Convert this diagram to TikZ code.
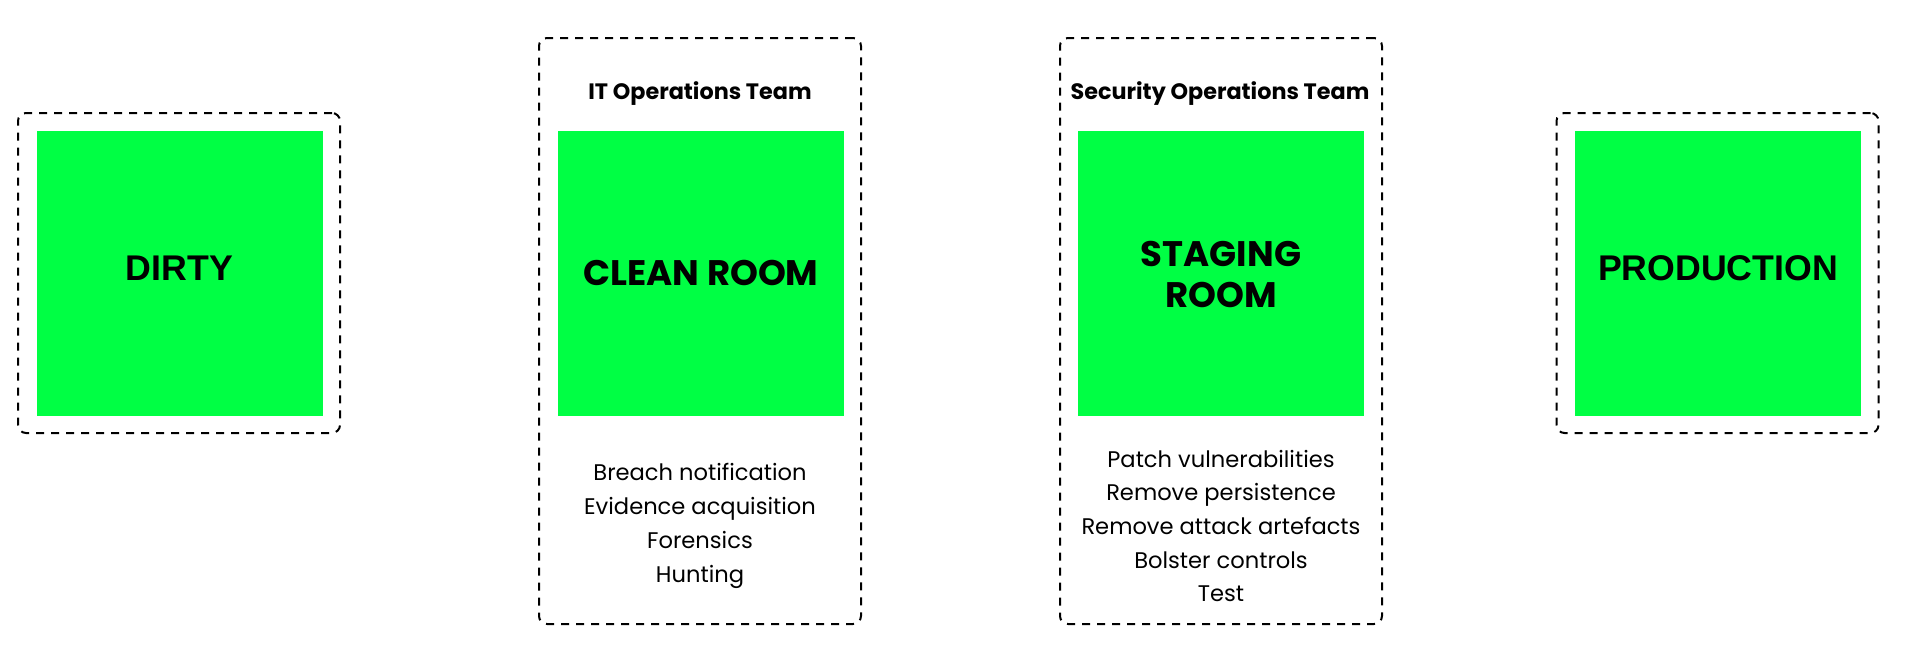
\documentclass[tikz,border=0pt]{standalone}
\usepackage{fontspec}
\setmainfont{Poppins}
\newfontfamily\labelfont{Liberation Sans}
\definecolor{roomgreen}{RGB}{0,255,68}
\begin{document}
\begin{tikzpicture}[x=1pt,y=-1pt,
  container/.style={draw=black, line width=2pt, dash pattern=on 8pt off 7pt, rounded corners=8pt, inner sep=0pt, minimum width=322pt},
  room/.style={fill=roomgreen, draw=none, minimum width=286pt, minimum height=285pt, inner sep=0pt},
  bigsans/.style={anchor=base, inner sep=0pt, font=\labelfont\bfseries\fontsize{35.7}{40}\selectfont},
  biggeo/.style={anchor=base, inner sep=0pt, font=\bfseries\fontsize{35.5}{40}\selectfont},
  teamtitle/.style={anchor=base, inner sep=0pt, font=\bfseries\fontsize{22.3}{26}\selectfont},
  listitem/.style={anchor=base, inner sep=0pt, font=\fontsize{22.6}{34}\selectfont}]
\useasboundingbox (0,0) rectangle (1920,670);

% containers
\node[container, minimum height=320pt] (dirtybox) at (179,273) {};
\node[container, minimum height=586pt] (cleanbox) at (700,331) {};
\node[container, minimum height=586pt] (stagebox) at (1221,331) {};
\node[container, minimum height=320pt] (prodbox) at (1717.5,273) {};

% rooms
\node[room] (dirty) at (179.5,273.5) {};
\node[room] (clean) at (701,273.5) {};
\node[room] (stage) at (1221,273.5) {};
\node[room] (prod) at (1718,273.5) {};

% room labels
\node[bigsans] (dirtylbl) at (179.5,280) {DIRTY};
\node[bigsans] (prodlbl) at (1718,280.5) {PRODUCTION};
\node[biggeo] (cleanlbl) at (701,285) {CLEAN ROOM};
\node[biggeo] (stagelbl1) at (1221,266) {STAGING};
\node[biggeo] (stagelbl2) at (1221,307) {ROOM};

% team titles
\node[teamtitle] (ittitle) at (700,99.5) {IT Operations Team};
\node[teamtitle] (sectitle) at (1220,99.5) {Security Operations Team};

% clean room tasks
\node[listitem] (c1) at (700,480) {Breach notification};
\node[listitem] (c2) at (700,514) {Evidence acquisition};
\node[listitem] (c3) at (700,548) {Forensics};
\node[listitem] (c4) at (700,582) {Hunting};

% staging room tasks
\node[listitem] (s1) at (1221,467) {Patch vulnerabilities};
\node[listitem] (s2) at (1221,500.7) {Remove persistence};
\node[listitem] (s3) at (1221,534.4) {Remove attack artefacts};
\node[listitem] (s4) at (1221,568.1) {Bolster controls};
\node[listitem] (s5) at (1221,601.8) {Test};
\end{tikzpicture}
\end{document}
